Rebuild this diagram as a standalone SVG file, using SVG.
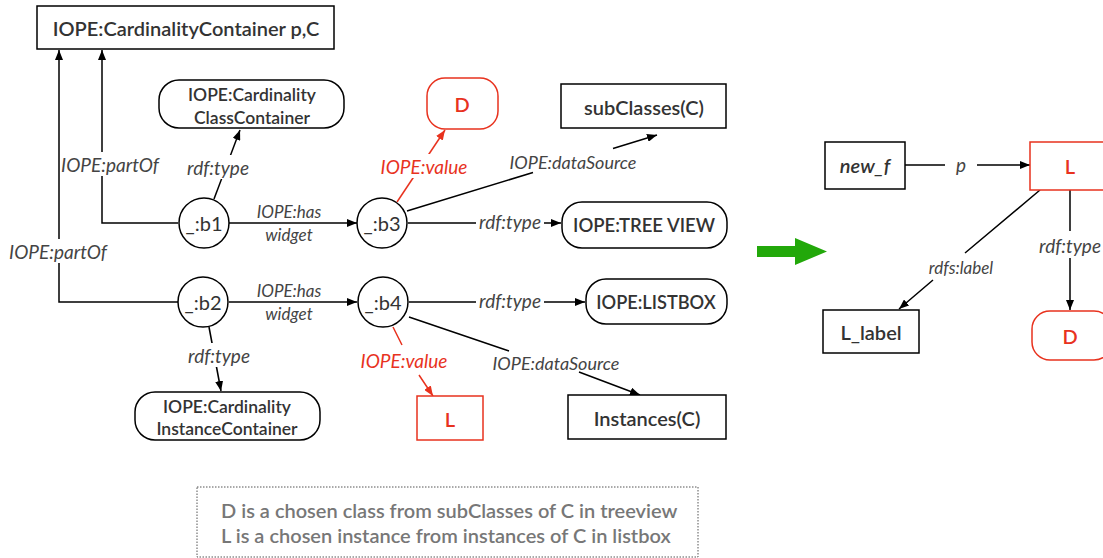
<svg xmlns="http://www.w3.org/2000/svg" width="1103" height="558" viewBox="0 0 1103 558">
<style>
.n{fill:#fff;stroke:#000;stroke-width:1.5}
.r{fill:#fff;stroke:#e8321e;stroke-width:1.5}
.t{font-family:Lato,"Liberation Sans",sans-serif;font-size:20px;font-weight:600;fill:#333;text-anchor:middle;dominant-baseline:central}
.tr{font-family:Lato,"Liberation Sans",sans-serif;font-size:20px;font-weight:600;fill:#e8321e;text-anchor:middle;dominant-baseline:central}
.e{fill:none;stroke:#000;stroke-width:1.5}
.er{fill:none;stroke:#e8321e;stroke-width:1.5}
.l{font-family:Lato,"Liberation Sans",sans-serif;font-style:italic;font-size:19px;fill:#444;text-anchor:middle;dominant-baseline:central}
.ls{font-family:Lato,"Liberation Sans",sans-serif;font-style:italic;font-size:17px;fill:#444;text-anchor:middle;dominant-baseline:central}
.lr{font-family:Lato,"Liberation Sans",sans-serif;font-style:italic;font-size:19px;fill:#e8321e;text-anchor:middle;dominant-baseline:central}
.bg{fill:#fff}
.note{font-family:Lato,"Liberation Sans",sans-serif;font-size:20px;font-weight:600;fill:#777}
</style>
<defs>
<marker id="a" markerWidth="10" markerHeight="8" refX="10" refY="4" orient="auto" markerUnits="userSpaceOnUse"><path d="M0,0 L10,4 L0,8 Z" fill="#000"/></marker>
<marker id="ar" markerWidth="10" markerHeight="8" refX="10" refY="4" orient="auto" markerUnits="userSpaceOnUse"><path d="M0,0 L10,4 L0,8 Z" fill="#e8321e"/></marker>
</defs>
<g id="connectors">
<path class="e" d="M178,302 L59,302 L59,50" marker-end="url(#a)"/>
<rect class="bg" x="6" y="239" width="106" height="24"/>
<text class="l" x="58" y="251">IOPE:partOf</text>
<path class="e" d="M178,223 L102,223 L102,50" marker-end="url(#a)"/>
<rect class="bg" x="60" y="152" width="102" height="24"/>
<text class="l" x="110" y="164">IOPE:partOf</text>
<path class="e" d="M214,199 L240,130" marker-end="url(#a)"/>
<rect class="bg" x="184" y="155" width="68" height="24"/>
<text class="l" x="218" y="167">rdf:type</text>
<path class="e" d="M229,223 L357,223" marker-end="url(#a)"/>
<text class="ls" x="289" y="211">IOPE:has</text>
<text class="ls" x="289" y="234">widget</text>
<path class="er" d="M397,202 L445,130" marker-end="url(#ar)"/>
<rect class="bg" x="378" y="154" width="92" height="24"/>
<text class="lr" x="424" y="166">IOPE:value</text>
<path class="e" d="M407,211 L533,172.5 M613,148.5 L657,135" marker-end="url(#a)"/>
<text class="ls" x="573" y="162" style="font-size:18px">IOPE:dataSource</text>
<path class="e" d="M408,223 L476,223 M544,223 L561,223" marker-end="url(#a)"/>
<text class="l" x="510" y="221">rdf:type</text>
<path class="e" d="M229,302 L357,302" marker-end="url(#a)"/>
<text class="ls" x="289" y="290">IOPE:has</text>
<text class="ls" x="289" y="313">widget</text>
<path class="e" d="M209,327 L221,391" marker-end="url(#a)"/>
<rect class="bg" x="184" y="343" width="70" height="24"/>
<text class="l" x="219" y="355">rdf:type</text>
<path class="e" d="M409,302 L476,302 M544,302 L585,302" marker-end="url(#a)"/>
<text class="l" x="510" y="300">rdf:type</text>
<path class="er" d="M393,327 L402,345 M419,375 L433,396" marker-end="url(#ar)"/>
<text class="lr" x="404" y="360">IOPE:value</text>
<path class="e" d="M409,317 L509,351 M579,372 L640,395" marker-end="url(#a)"/>
<text class="ls" x="556" y="363" style="font-size:18px">IOPE:dataSource</text>
<path class="e" d="M905,165 L945,165 M977,165 L1030,165" marker-end="url(#a)"/>
<text class="l" x="961" y="164">p</text>
<path class="e" d="M1040,190 L965,253 M933,280 L899,309" marker-end="url(#a)"/>
<text class="ls" x="961" y="267">rdfs:label</text>
<path class="e" d="M1070,190 L1070,231 M1070,258 L1070,310" marker-end="url(#a)"/>
<text class="l" x="1070" y="245">rdf:type</text>
</g>
<g id="top"><rect class="n" x="37" y="6" width="297" height="43"/><text class="t" x="186" y="28">IOPE:CardinalityContainer p,C</text></g>
<g id="classContainer"><rect class="n" x="159" y="80" width="185" height="48" rx="20"/><text class="t" x="252" y="94" style="font-size:17.5px">IOPE:Cardinality</text><text class="t" x="252" y="117" style="font-size:17.5px">ClassContainer</text></g>
<g id="b1"><circle class="n" cx="204" cy="223" r="25"/><text class="t" x="204" y="223" style="font-weight:400">_:b1</text></g>
<g id="b3"><circle class="n" cx="382" cy="223" r="25"/><text class="t" x="382" y="223" style="font-weight:400">_:b3</text></g>
<g id="D1"><rect class="r" x="427" y="78" width="71" height="51" rx="18"/><text class="tr" x="462" y="104">D</text></g>
<g id="subClasses"><rect class="n" x="561" y="84" width="165" height="44"/><text class="t" x="644" y="107">subClasses(C)</text></g>
<g id="treeView"><rect class="n" x="562" y="202" width="165" height="46" rx="20"/><text class="t" x="644" y="225" style="font-size:18.5px">IOPE:TREE VIEW</text></g>
<g id="b2"><circle class="n" cx="203" cy="302" r="25"/><text class="t" x="203" y="302" style="font-weight:400">_:b2</text></g>
<g id="b4"><circle class="n" cx="383" cy="302" r="25"/><text class="t" x="383" y="302" style="font-weight:400">_:b4</text></g>
<g id="instanceContainer"><rect class="n" x="135" y="392" width="185" height="48" rx="20"/><text class="t" x="227" y="406" style="font-size:17.5px">IOPE:Cardinality</text><text class="t" x="227" y="428" style="font-size:17.5px">InstanceContainer</text></g>
<g id="listbox"><rect class="n" x="586" y="279" width="141" height="45" rx="20"/><text class="t" x="656" y="302" style="font-size:18.2px">IOPE:LISTBOX</text></g>
<g id="L1"><rect class="r" x="417" y="396" width="66" height="44"/><text class="tr" x="450" y="419">L</text></g>
<g id="instances"><rect class="n" x="568" y="395" width="158" height="44"/><text class="t" x="647" y="418">Instances(C)</text></g>
<g id="greenArrow"><polygon points="757,246 795,246 795,238 827,251.5 795,265 795,257 757,257" fill="#22a80a"/></g>
<g id="newf"><rect class="n" x="825" y="142" width="80" height="47"/><text class="t" x="865" y="165" style="font-style:italic">new_f</text></g>
<g id="L2"><rect class="r" x="1030" y="142" width="80" height="48"/><text class="tr" x="1070" y="166">L</text></g>
<g id="Llabel"><rect class="n" x="823" y="310" width="96" height="43"/><text class="t" x="871" y="332">L_label</text></g>
<g id="D2"><rect class="r" x="1032" y="311" width="80" height="49" rx="18"/><text class="tr" x="1070" y="336">D</text></g>
<g id="note"><rect x="197" y="487" width="501" height="70" fill="#fff" stroke="#555" stroke-width="1" stroke-dasharray="1.5,1.5"/>
<text class="note" x="221" y="518">D is a chosen class from subClasses of C in treeview</text>
<text class="note" x="221" y="543">L is a chosen instance from instances of C in listbox</text></g>
</svg>
